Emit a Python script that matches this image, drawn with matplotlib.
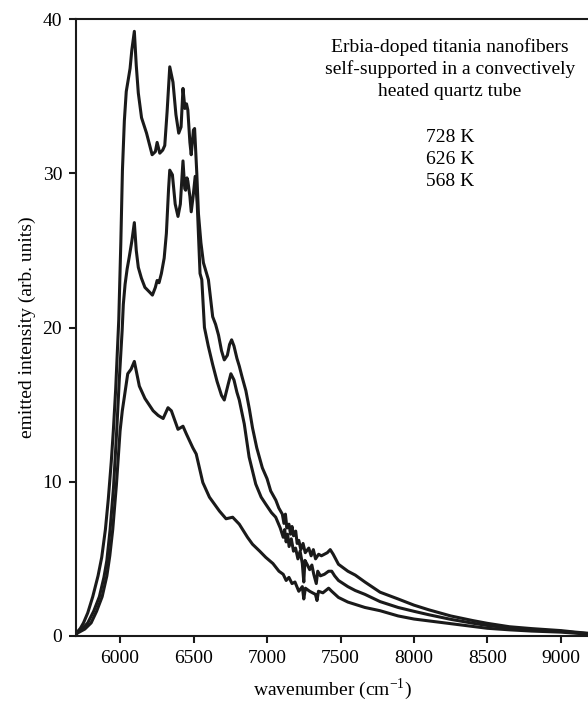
import matplotlib
matplotlib.use("Agg")
import matplotlib.pyplot as plt

plt.rcParams['font.family'] = ['Liberation Serif', 'DejaVu Serif']
plt.rcParams['mathtext.fontset'] = 'custom'
plt.rcParams['mathtext.rm'] = 'Liberation Serif'

# 728 K
x_728 = [5700, 5712, 5730, 5751, 5780, 5814, 5850, 5875, 5900, 5920, 5940, 5954, 5970, 5991,
         6005, 6016, 6029, 6042, 6056, 6068, 6080, 6097, 6110, 6124, 6146, 6180, 6218, 6240,
         6252, 6270, 6290, 6304, 6320, 6338, 6360, 6380, 6399, 6415, 6428, 6441, 6452, 6461,
         6475, 6484, 6499, 6507, 6522, 6533, 6550, 6567, 6601, 6630, 6650, 6670, 6690, 6709,
         6730, 6745, 6759, 6775, 6795, 6811, 6830, 6856, 6880, 6901, 6930, 6968, 7000, 7025,
         7060, 7080, 7104, 7115, 7125, 7135, 7149, 7160, 7170, 7180, 7195, 7205, 7216, 7230,
         7245, 7260, 7284, 7300, 7315, 7330, 7351, 7370, 7390, 7410, 7430, 7450, 7486, 7550,
         7600, 7666, 7769, 7892, 8000, 8100, 8250, 8400, 8500, 8650, 8800, 9000, 9100, 9184]
y_728 = [0.2, 0.3, 0.5, 0.85, 1.5, 2.55, 3.9, 5.1, 6.9, 8.9, 11.3, 13.3, 16.0, 20.5,
         25.5, 30.2, 33.4, 35.3, 36.1, 36.8, 38.0, 39.2, 37.0, 35.2, 33.6, 32.6, 31.2, 31.4,
         32.0, 31.3, 31.5, 31.8, 34.0, 36.9, 35.9, 33.8, 32.6, 33.0, 35.5, 34.2, 34.5, 34.1,
         32.0, 31.2, 32.8, 32.9, 30.0, 27.4, 25.5, 24.2, 23.1, 20.7, 20.2, 19.5, 18.5, 17.9,
         18.2, 18.9, 19.2, 18.8, 18.0, 17.5, 16.8, 15.9, 14.7, 13.5, 12.2, 10.9, 10.2, 9.4,
         8.8, 8.3, 7.9, 7.3, 7.9, 7.0, 7.25, 6.6, 7.1, 6.5, 6.8, 6.0, 6.2, 5.6,
         6.0, 5.4, 5.7, 5.2, 5.6, 5.0, 5.3, 5.2, 5.3, 5.4, 5.6, 5.3, 4.65, 4.2,
         3.95, 3.5, 2.84, 2.4, 2.0, 1.7, 1.3, 1.0, 0.82, 0.6, 0.48, 0.35, 0.25, 0.18]

# 626 K
x_626 = [5700, 5712, 5745, 5780, 5820, 5859, 5890, 5910, 5932, 5955, 5977, 5995, 6014, 6022,
         6034, 6048, 6061, 6080, 6097, 6110, 6124, 6145, 6169, 6200, 6220, 6240, 6252, 6265,
         6281, 6300, 6315, 6330, 6338, 6356, 6375, 6394, 6410, 6428, 6440, 6446, 6455, 6461,
         6475, 6484, 6497, 6511, 6525, 6544, 6556, 6574, 6600, 6630, 6660, 6690, 6709, 6735,
         6754, 6775, 6795, 6811, 6845, 6878, 6923, 6960, 6991, 7030, 7059, 7090, 7110, 7120,
         7130, 7140, 7150, 7165, 7180, 7194, 7210, 7225, 7240, 7250, 7258, 7275, 7290, 7305,
         7318, 7335, 7345, 7363, 7390, 7419, 7440, 7460, 7486, 7550, 7600, 7666, 7769, 7892,
         8000, 8100, 8250, 8400, 8500, 8650, 8800, 9000, 9100, 9184]
y_626 = [0.15, 0.25, 0.5, 0.85, 1.6, 2.55, 3.8, 4.9, 6.9, 9.6, 13.3, 16.7, 19.8, 21.5,
         22.8, 23.8, 24.5, 25.6, 26.8, 25.0, 23.9, 23.2, 22.6, 22.3, 22.1, 22.6, 23.05, 22.9,
         23.5, 24.5, 26.1, 29.0, 30.2, 29.9, 28.0, 27.2, 28.0, 30.8, 29.0, 28.9, 29.7, 29.5,
         28.5, 27.5, 28.5, 29.8, 28.0, 23.5, 23.1, 20.0, 18.8, 17.6, 16.5, 15.6, 15.3, 16.3,
         17.0, 16.6, 15.8, 15.3, 13.75, 11.6, 9.85, 9.0, 8.55, 8.0, 7.7, 7.0, 6.4, 6.9,
         6.1, 6.6, 5.8, 6.3, 5.5, 5.7, 5.0, 5.5, 4.7, 3.5, 4.9, 4.6, 4.3, 4.6,
         4.0, 3.4, 4.2, 3.9, 4.0, 4.2, 4.2, 3.9, 3.6, 3.2, 2.95, 2.7, 2.23, 1.85,
         1.6, 1.38, 1.08, 0.83, 0.68, 0.52, 0.42, 0.3, 0.22, 0.15]

# 568 K
x_568 = [5700, 5712, 5760, 5803, 5840, 5878, 5910, 5930, 5950, 5975, 6000, 6015, 6029, 6052,
         6075, 6097, 6131, 6169, 6225, 6259, 6293, 6326, 6349, 6394, 6428, 6451, 6495, 6518,
         6563, 6608, 6676, 6721, 6766, 6811, 6867, 6901, 6950, 6991, 7040, 7081, 7110, 7130,
         7149, 7170, 7190, 7216, 7240, 7250, 7261, 7290, 7329, 7340, 7350, 7380, 7419, 7440,
         7486, 7550, 7666, 7769, 7892, 8000, 8100, 8250, 8400, 8500, 8650, 8800, 9000, 9100, 9184]
y_568 = [0.1, 0.2, 0.45, 0.85, 1.6, 2.55, 3.9, 5.2, 6.9, 9.8, 13.3, 14.6, 15.5, 17.0,
         17.3, 17.8, 16.2, 15.4, 14.6, 14.3, 14.1, 14.8, 14.6, 13.4, 13.6, 13.1, 12.2, 11.8,
         9.95, 9.0, 8.1, 7.6, 7.7, 7.25, 6.4, 5.95, 5.5, 5.1, 4.7, 4.2, 4.0, 3.6,
         3.8, 3.4, 3.5, 2.9, 3.2, 2.4, 3.1, 2.9, 2.7, 2.3, 2.9, 2.8, 3.1, 2.9,
         2.5, 2.2, 1.85, 1.64, 1.3, 1.1, 0.98, 0.8, 0.62, 0.5, 0.4, 0.32, 0.25, 0.18, 0.12]

x_ticks = [6000, 6500, 7000, 7500, 8000, 8500, 9000]
y_ticks = [0, 10, 20, 30, 40]
annotation_lines = ["Erbia-doped titania nanofibers",
                    "self-supported in a convectively",
                    "heated quartz tube"]
temp_labels = ["728 K", "626 K", "568 K"]

fig = plt.figure(figsize=(5.88, 7.07), dpi=100)
ax = fig.add_axes([76/588, 71/707, 1 - 76/588, 617/707])

for xs, ys in [(x_728, y_728), (x_626, y_626), (x_568, y_568)]:
    ax.plot(xs, ys, color='#1a1a1a', lw=2.2, solid_joinstyle='round')

ax.set_xlim(5700, 9184)
ax.set_ylim(0, 40)
ax.set_xticks(x_ticks)
ax.set_yticks(y_ticks)
ax.spines['right'].set_visible(False)
for s in ['left', 'top', 'bottom']:
    ax.spines[s].set_linewidth(1.5)
    ax.spines[s].set_color('#1a1a1a')
ax.tick_params(direction='out', length=5, width=1.5, labelsize=14, color='#1a1a1a')
ax.tick_params(axis='x', pad=5)
ax.tick_params(axis='y', pad=5)

ax.set_xlabel("wavenumber (cm$^{-1}$)", fontsize=14, labelpad=7)
ax.set_ylabel("emitted intensity (arb. units)", fontsize=14, labelpad=5)

x_c = (450 - 76) / 512
for i, line in enumerate(annotation_lines):
    ax.text(x_c, (636 - 47 - 22 * i) / 617, line, transform=ax.transAxes,
            ha='center', va='center', fontsize=14)
for i, line in enumerate(temp_labels):
    ax.text(x_c, (636 - 137 - 22 * i) / 617, line, transform=ax.transAxes,
            ha='center', va='center', fontsize=14)

fig.savefig("out.png", dpi=100)
